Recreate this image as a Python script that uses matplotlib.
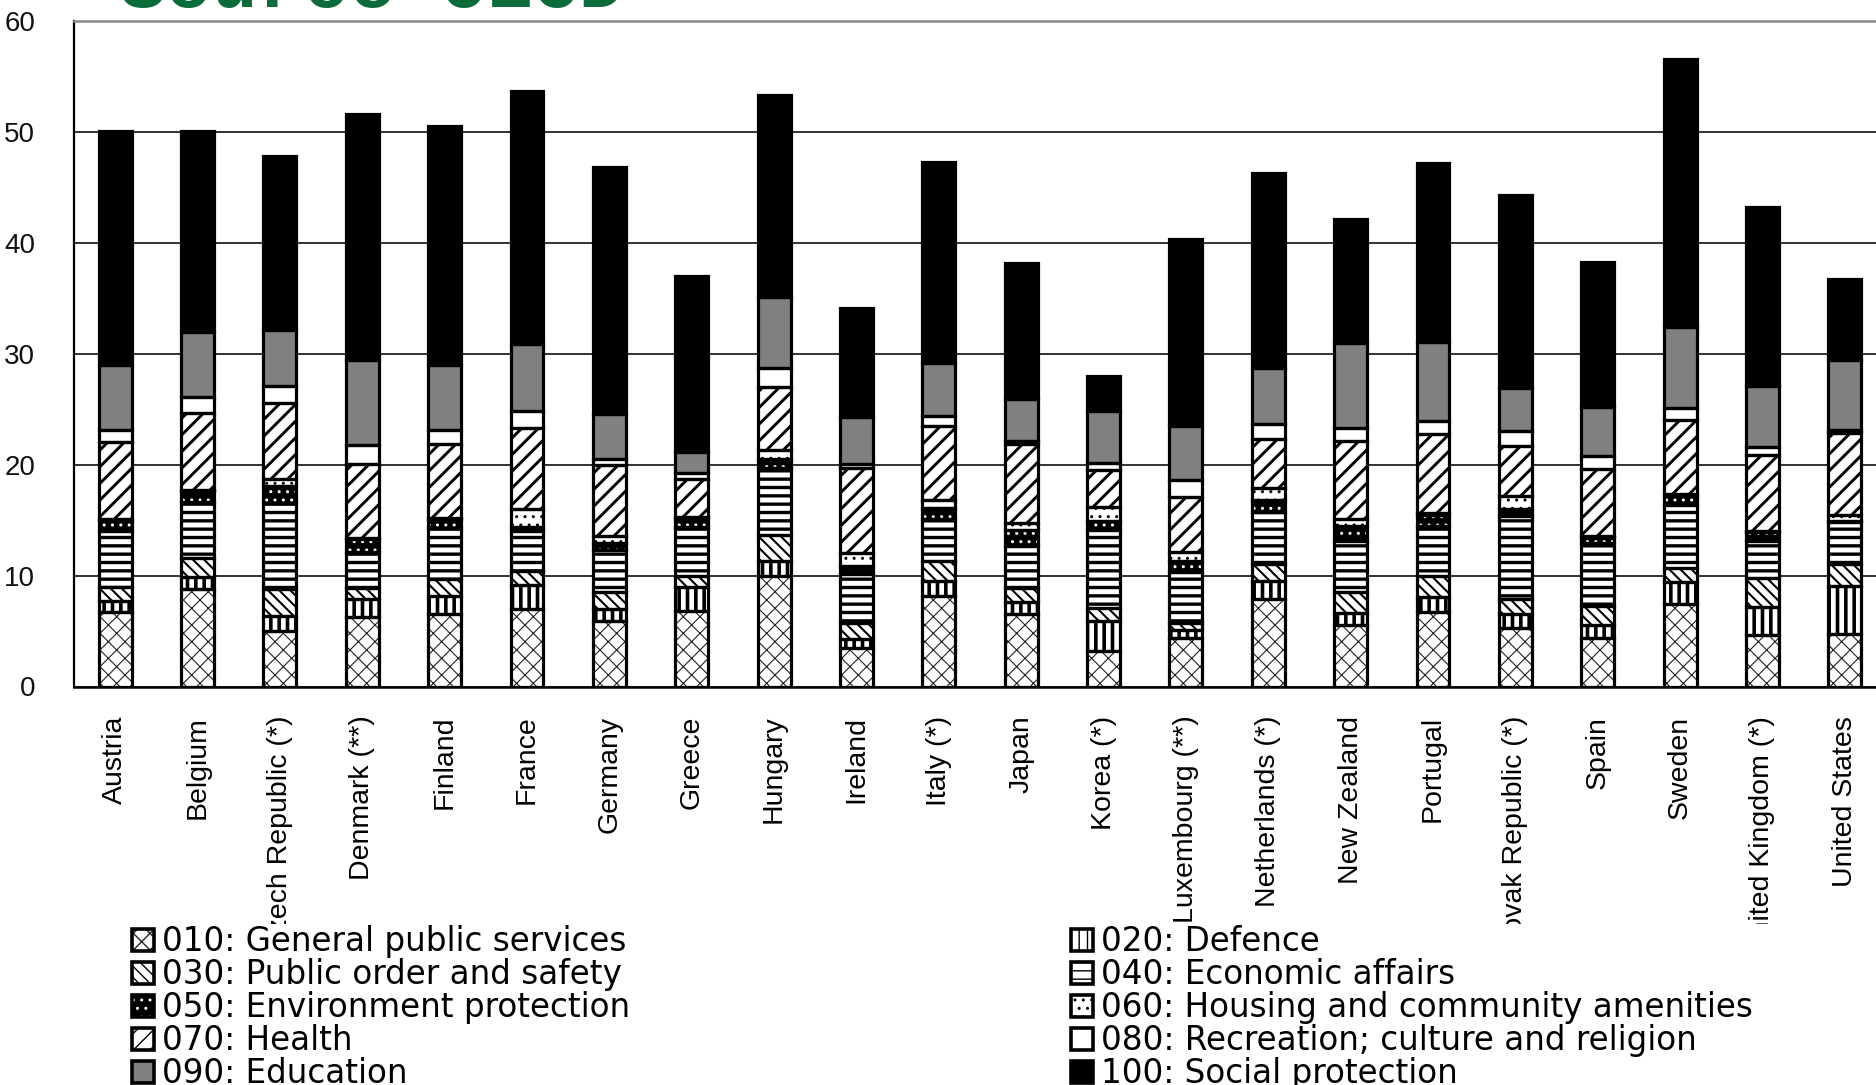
import matplotlib
matplotlib.use("Agg")
import matplotlib.pyplot as plt
import numpy as np
from matplotlib.patches import Patch
from matplotlib.transforms import Bbox, TransformedBbox

# ---------------- data ----------------
countries = ["Austria", "Belgium", "Czech Republic (*)", "Denmark (**)", "Finland",
             "France", "Germany", "Greece", "Hungary", "Ireland", "Italy (*)", "Japan",
             "Korea (*)", "Luxembourg (**)", "Netherlands (*)", "New Zealand", "Portugal",
             "Slovak Republic (*)", "Spain", "Sweden", "United Kingdom (*)", "United States"]

gen_010 = [6.7, 8.8, 5.0, 6.3, 6.5, 7.0, 5.9, 6.8, 10.0, 3.5, 8.2, 6.5, 3.2, 4.4, 7.9, 5.5, 6.7, 5.3, 4.4, 7.4, 4.6, 4.7]
def_020 = [1.0, 1.1, 1.4, 1.6, 1.7, 2.15, 1.1, 2.2, 1.3, 0.8, 1.3, 1.1, 2.75, 0.7, 1.6, 1.1, 1.4, 1.2, 1.1, 2.0, 2.6, 4.35]
ord_030 = [1.3, 1.7, 2.35, 1.0, 1.5, 1.3, 1.5, 1.0, 2.35, 1.4, 1.8, 1.3, 1.1, 0.6, 1.5, 1.9, 1.9, 1.4, 1.8, 1.25, 2.6, 2.0]
eco_040 = [5.0, 5.0, 7.8, 3.2, 4.6, 3.55, 3.8, 4.35, 6.05, 4.4, 3.8, 3.75, 7.1, 4.6, 4.7, 4.6, 4.5, 7.5, 5.6, 5.7, 3.35, 3.8]
env_050 = [1.0, 1.0, 1.5, 1.2, 0.8, 0.4, 0.6, 0.8, 0.8, 0.8, 1.0, 1.5, 0.8, 1.0, 1.1, 1.4, 1.0, 0.6, 0.6, 0.8, 0.8, 0.1]
hou_060 = [0.1, 0.1, 0.7, 0.1, 0.1, 1.6, 0.7, 0.1, 0.8, 1.1, 0.7, 0.6, 1.2, 0.8, 1.1, 0.6, 0.1, 1.2, 0.1, 0.2, 0.1, 0.5]
hea_070 = [6.9, 7.0, 6.8, 6.65, 6.65, 7.3, 6.4, 3.5, 5.7, 7.7, 6.7, 7.15, 3.4, 5.0, 4.4, 7.05, 7.2, 4.5, 6.0, 6.7, 6.85, 7.45]
rec_080 = [1.1, 1.4, 1.5, 1.7, 1.25, 1.5, 0.5, 0.5, 1.7, 0.4, 0.9, 0.2, 0.6, 1.5, 1.4, 1.2, 1.1, 1.3, 1.2, 1.05, 0.7, 0.2]
edu_090 = [5.85, 5.9, 5.1, 7.65, 5.9, 6.05, 4.1, 1.9, 6.4, 4.2, 4.75, 3.8, 4.7, 4.85, 5.0, 7.6, 7.2, 3.9, 4.4, 7.35, 5.45, 6.3]
soc_100 = [21.1, 18.1, 15.7, 22.2, 21.5, 22.8, 22.2, 15.85, 18.2, 9.8, 18.1, 12.3, 3.15, 16.9, 17.6, 11.2, 16.1, 17.4, 13.1, 24.1, 16.2, 7.3]

series_labels = ["010: General public services", "020: Defence", "030: Public order and safety",
                 "040: Economic affairs", "050: Environment protection",
                 "060: Housing and community amenities", "070: Health",
                 "080: Recreation; culture and religion", "090: Education", "100: Social protection"]
series_values = [gen_010, def_020, ord_030, eco_040, env_050, hou_060, hea_070, rec_080, edu_090, soc_100]

y_ticks = [0, 10, 20, 30, 40, 50, 60]

# ---------------- styles ----------------
# (face colour, hatch, hatch colour, hatch linewidth)
styles = [
    ("white", "xx", "#222222", 0.8),
    ("white", "||", "black", 2.6),
    ("white", "\\\\\\", "black", 1.5),
    ("white", "--", "black", 2.4),
    ("black", "..", "white", 1.0),
    ("white", "..", "black", 1.0),
    ("white", "//", "black", 2.1),
    ("white", None, "white", 1.0),
    ("#808080", None, "#808080", 1.0),
    ("black", None, "black", 1.0),
]

W, H = 1876, 1085
fig = plt.figure(figsize=(W / 100, H / 100), dpi=100)
fig.patch.set_facecolor("white")

ax_left, ax_right, ax_top, ax_bot = 74, 1886, 21, 686.5
ax = fig.add_axes([ax_left / W, (H - ax_bot) / H, (ax_right - ax_left) / W, (ax_bot - ax_top) / H])

x = np.arange(len(countries))
bar_w = 0.40
bottom = np.zeros(len(countries))


def with_hatch_lw(artist, lw):
    """Draw an artist with its own hatch line width."""
    if hasattr(artist, "set_hatch_linewidth"):
        artist.set_hatch_linewidth(lw)
    orig = artist.draw

    def draw(renderer, _orig=orig, _lw=lw):
        with plt.rc_context({"hatch.linewidth": _lw}):
            _orig(renderer)
    artist.draw = draw


for vals, (face, hatch, hcol, hlw) in zip(series_values, styles):
    v = np.array(vals, dtype=float)
    with plt.rc_context({"hatch.linewidth": hlw}):
        bars = ax.bar(x, v, bar_w, bottom=bottom, color=face, edgecolor=hcol,
                      linewidth=0, hatch=hatch, zorder=2)
    for b in bars:
        with_hatch_lw(b, hlw)
    ax.bar(x, v, bar_w, bottom=bottom, fill=False, edgecolor="black",
           linewidth=2.3, zorder=3)
    bottom += v

ax.set_xlim(-0.5, len(countries) - 0.5)
ax.set_ylim(0, 60)
ax.set_yticks(y_ticks)
ax.set_yticklabels([str(t) for t in y_ticks], fontsize=20, family="Liberation Sans", color="#111111")
ax.set_xticks(x)
ax.set_xticklabels(countries, rotation=90, fontsize=20.5, family="Liberation Sans", color="black")
ax.tick_params(axis="y", length=0, pad=28)
ax.tick_params(axis="x", length=0, pad=21)
ax.yaxis.grid(True, color="#222222", linewidth=1.3)
ax.set_axisbelow(True)

ax.spines["right"].set_visible(False)
ax.spines["top"].set_color("#8a8a8a")
ax.spines["top"].set_linewidth(1.8)
ax.spines["left"].set_color("black")
ax.spines["left"].set_linewidth(1.6)
ax.spines["bottom"].set_color("black")
ax.spines["bottom"].set_linewidth(1.8)

# clip the long country labels like the reference (cut off just above the legend)
clip = TransformedBbox(Bbox([[0, (H - 924) / H], [1, 1]]), fig.transFigure)
for lbl in ax.get_xticklabels():
    lbl.set_clip_box(clip)
    lbl.set_clip_on(True)

# title (partially outside the canvas, as in the reference)
fig.text(120 / W, 1 - 7 / H, "Source OECD", family="Liberation Mono", fontweight="bold",
         fontsize=55, color="#0B6B3A", ha="left", va="baseline")

# ---------------- legends ----------------
def make_handle(face, hatch, hcol, hlw):
    with plt.rc_context({"hatch.linewidth": hlw}):
        fill = Patch(facecolor=face, edgecolor=hcol, hatch=hatch, linewidth=0)
    if hasattr(fill, "set_hatch_linewidth"):
        fill.set_hatch_linewidth(hlw)
    outline = Patch(fill=False, edgecolor="black", linewidth=2.6)
    return (fill, outline)


handles = [make_handle(*st) for st in styles]
leg_fs = 23.5
common = dict(frameon=False, handlelength=0.66, handleheight=0.66,
              handletextpad=0.26, labelspacing=0.0, borderpad=0, borderaxespad=0,
              prop={"family": "DejaVu Sans", "size": leg_fs}, loc="upper left")
left_idx = [0, 2, 4, 6, 8]
right_idx = [1, 3, 5, 7, 9]
leg1 = fig.legend([handles[i] for i in left_idx], [series_labels[i] for i in left_idx],
                  bbox_to_anchor=(132 / W, 1 - 925 / H), **common)
leg2 = fig.legend([handles[i] for i in right_idx], [series_labels[i] for i in right_idx],
                  bbox_to_anchor=(1071 / W, 1 - 925 / H), **common)
for lg in (leg1, leg2):
    with_hatch_lw(lg, 1.6)

fig.savefig("out.png", dpi=100, facecolor="white")
